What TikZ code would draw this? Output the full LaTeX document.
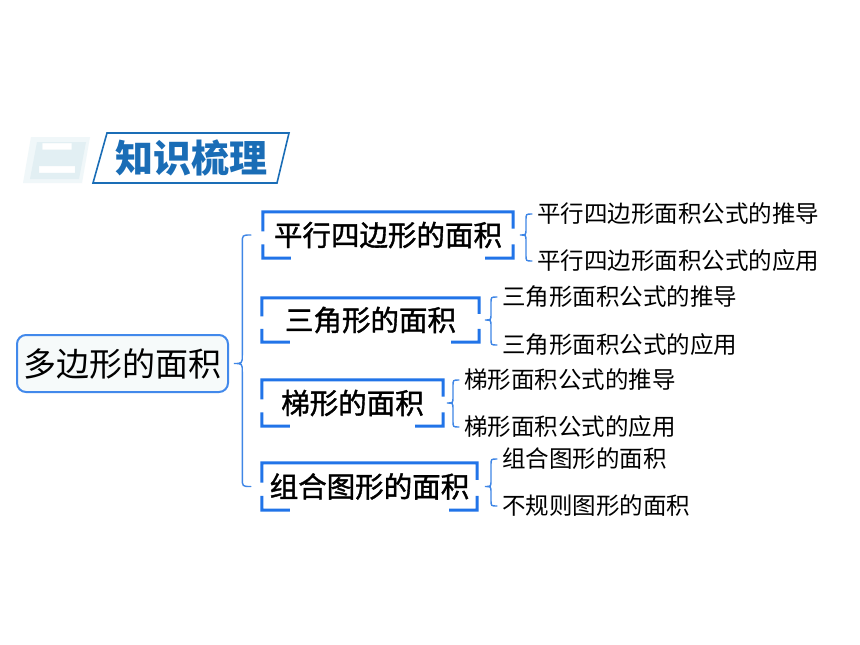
\documentclass[tikz,border=0pt]{standalone}
\usepackage{fontspec}
\newfontfamily\cjk{Noto Sans CJK SC}
\newfontfamily\cjkbx[FakeBold=1.3]{Noto Sans CJK SC}
\usetikzlibrary{calc}
\definecolor{ttlblue}{HTML}{1A6DB6}
\definecolor{bxblue}{HTML}{2174E8}
\definecolor{brblue}{HTML}{3F86E6}
\definecolor{rootfill}{HTML}{F6FAFA}
\definecolor{pale1}{HTML}{F0F7F9}
\definecolor{pale2}{HTML}{E2EFF3}
\newcommand\mybkt[1]{%
 \draw[bkline] ($(#1.north west)!0.42!(#1.south west)$) -- (#1.north west) -- (#1.north east) -- ($(#1.north east)!0.36!(#1.south east)$)
  ($(#1.south west)!0.3!(#1.north west)$) -- (#1.south west) -- ($(#1.south west)+(28,0)$)
  ($(#1.south east)!0.3!(#1.north east)$) -- (#1.south east) -- ($(#1.south east)+(-28,0)$);}
\newcommand\mycurly[5]{%
 \coordinate (cA) at ($(#2.west)+(-#4,0)$);
 \coordinate (cB) at (cA |- #3.west);
 \coordinate (cT) at ($(cA |- #1.east)+(-2*#5,0)$);
 \draw[brc] (cA) .. controls ($(cA)+(-#5,0)$) .. ($(cA)+(-#5,#5)$) -- ($(cT)+(#5,-#5)$) .. controls ($(cT)+(#5,0)$) .. (cT) .. controls ($(cT)+(#5,0)$) .. ($(cT)+(#5,#5)$) -- ($(cB)+(-#5,-#5)$) .. controls ($(cB)+(-#5,0)$) .. (cB);}
\begin{document}
\begin{tikzpicture}[x=1pt,y=-1pt,
  bkline/.style={draw=bxblue, line width=3pt},
  brc/.style={draw=brblue, line width=1.4pt, line cap=round},
  boxtxt/.style={inner sep=0pt, font=\cjkbx\fontsize{28.5}{30}\selectfont, text=black},
  leaf/.style={inner sep=0pt, anchor=west, font=\cjk\fontsize{23.5}{25}\selectfont, text=black}]
\fill[white] (0,0) rectangle (860,645);
\useasboundingbox (0,0) rectangle (860,645);
% title banner
\fill[pale1] (31,137) -- (90,137) -- (82,183) -- (23,183) -- cycle;
\fill[pale2] (37,142) -- (86,142) -- (79,179) -- (30,179) -- cycle;
\node[inner sep=0pt, text=white, font=\cjk\bfseries\fontsize{40}{40}\selectfont] (er) at (57,159) {二};
\draw[draw=ttlblue, line width=1.6pt] (107,133) -- (289,133) -- (277,183) -- (93,183) -- cycle;
\node[inner sep=0pt, text=ttlblue, font=\cjk\bfseries\fontsize{38}{38}\selectfont] (title) at (191,158) {知识梳理};
% root
\node[draw=bxblue!85!white, line width=2pt, rounded corners=9pt, fill=rootfill, minimum width=211pt, minimum height=57pt, inner sep=0pt, font=\cjk\fontsize{33}{34}\selectfont] (root) at (122.5,363.5) {多边形的面积};
% boxes
\node[boxtxt, minimum width=250pt, minimum height=46pt] (b1) at (388,235) {平行四边形的面积};
\node[boxtxt, minimum width=217pt, minimum height=44pt] (b2) at (370.5,320) {三角形的面积};
\node[boxtxt, minimum width=181pt, minimum height=46pt] (b3) at (352.5,403) {梯形的面积};
\node[boxtxt, minimum width=215pt, minimum height=47pt] (b4) at (369.5,486.5) {组合图形的面积};
\mybkt{b1}\mybkt{b2}\mybkt{b3}\mybkt{b4}
% leaves
\node[leaf] (l1) at (537,214) {平行四边形面积公式的推导};
\node[leaf] (l2) at (537,261) {平行四边形面积公式的应用};
\node[leaf] (l3) at (502,297) {三角形面积公式的推导};
\node[leaf] (l4) at (502,345) {三角形面积公式的应用};
\node[leaf] (l5) at (464,380) {梯形面积公式的推导};
\node[leaf] (l6) at (464,427) {梯形面积公式的应用};
\node[leaf] (l7) at (502,459) {组合图形的面积};
\node[leaf] (l8) at (502,506) {不规则图形的面积};
% braces
\mycurly{root}{b1}{b4}{12}{8.5}
\mycurly{b1}{l1}{l2}{5}{6}
\mycurly{b2}{l3}{l4}{5}{6}
\mycurly{b3}{l5}{l6}{5}{6}
\mycurly{b4}{l7}{l8}{5}{6}
\end{tikzpicture}
\end{document}
